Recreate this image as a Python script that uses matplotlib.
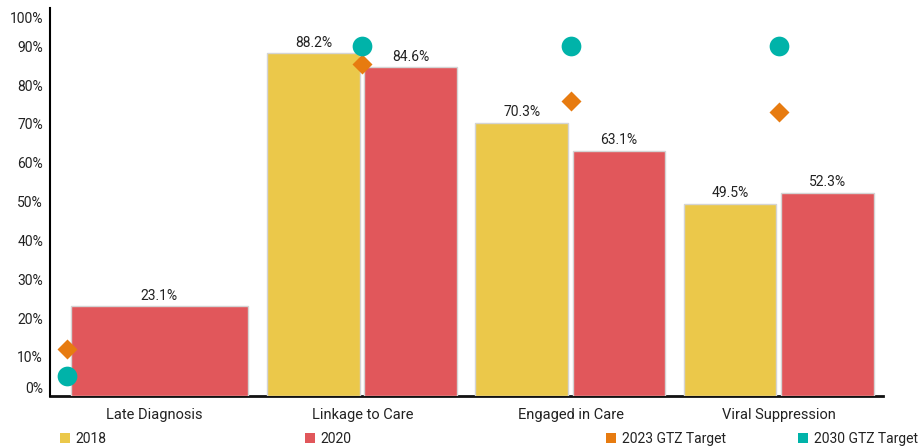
import matplotlib
matplotlib.use("Agg")
import matplotlib.pyplot as plt
import matplotlib.transforms as mtransforms
from matplotlib.patches import Patch
import numpy as np

plt.rcParams['font.family'] = ['Roboto', 'DejaVu Sans']

categories = ["Late Diagnosis", "Linkage to Care", "Engaged in Care", "Viral Suppression"]
values_2018 = [None, 88.2, 70.3, 49.5]
values_2020 = [23.1, 84.6, 63.1, 52.3]
target_2023 = [12, 85.5, 76, 73]
target_2030 = [5, 90, 90, 90]
y_ticks = [0, 10, 20, 30, 40, 50, 60, 70, 80, 90, 100]
y_tick_labels = [f"{t}%" for t in y_ticks]
legend_labels = ["2018", "2020", "2023 GTZ Target", "2030 GTZ Target"]

C2018 = "#EBC84A"
C2020 = "#E1575B"
C2023 = "#E77B10"
C2030 = "#00B3A9"
TXT = "#222222"

W, H = 920, 447
fig = plt.figure(figsize=(W / 100, H / 100), dpi=100)
ax = fig.add_axes([50 / W, (H - 395.7) / H, (883 - 50) / W, (395.7 - 7.5) / H])
ax.set_xlim(-0.5, 3.5)
ax.set_ylim(0, 100)

bw = 0.445
for i, cat in enumerate(categories):
    v18 = values_2018[i]
    v20 = values_2020[i]
    if v18 is not None:
        ax.bar(i - 0.235, v18, width=bw, color=C2018, edgecolor="#d4d4d4", linewidth=1, zorder=3)
        ax.annotate(f"{v18:.1f}%", (i - 0.235, v18), xytext=(0, 2.5), textcoords="offset points",
                    ha="center", va="bottom", fontsize=10, color=TXT, zorder=5)
        ax.bar(i + 0.232, v20, width=bw, color=C2020, edgecolor="#d4d4d4", linewidth=1, zorder=3)
        ax.annotate(f"{v20:.1f}%", (i + 0.232, v20), xytext=(0, 2.5), textcoords="offset points",
                    ha="center", va="bottom", fontsize=10, color=TXT, zorder=5)
        mx = i
    else:
        ax.bar(i + 0.025, v20, width=0.85, color=C2020, edgecolor="#d4d4d4", linewidth=1, zorder=3)
        ax.annotate(f"{v20:.1f}%", (i + 0.025, v20), xytext=(0, 2.5), textcoords="offset points",
                    ha="center", va="bottom", fontsize=10, color=TXT, zorder=5)
        mx = i - 0.42
    ax.plot([mx], [target_2023[i]], marker="D", ms=10.5, color=C2023, mec="none", ls="none", zorder=6, clip_on=False)
    ax.plot([mx], [target_2030[i]], marker="o", ms=14.2, color=C2030, mec="none", ls="none", zorder=6, clip_on=False)

for s in ["top", "right"]:
    ax.spines[s].set_visible(False)
ax.spines["left"].set_color("black")
ax.spines["left"].set_linewidth(1.5)
ax.spines["bottom"].set_color("#111111")
ax.spines["bottom"].set_linewidth(2)
ax.spines["bottom"].set_zorder(2)

ax.set_xticks(range(len(categories)))
ax.set_xticklabels(categories, fontsize=10.5, color=TXT)
ax.set_yticks(y_ticks)
ax.set_yticklabels(y_tick_labels, fontsize=10, color=TXT)
ax.tick_params(axis="both", length=0)
ax.tick_params(axis="x", pad=9)
ax.tick_params(axis="y", pad=5)

ylabels = ax.get_yticklabels()
ylabels[0].set_transform(ylabels[0].get_transform() + mtransforms.ScaledTranslation(0, 0.084, fig.dpi_scale_trans))
ylabels[-1].set_transform(ylabels[-1].get_transform() + mtransforms.ScaledTranslation(0, -0.098, fig.dpi_scale_trans))

colors = [C2018, C2020, C2023, C2030]
leg_x = [60, 305, 606, 798]
fs = 10
for lbl, col, x in zip(legend_labels, colors, leg_x):
    leg = fig.legend(handles=[Patch(facecolor=col, edgecolor="none")], labels=[lbl],
                     loc="center left", bbox_to_anchor=(x / W, 1 - 438.7 / H),
                     frameon=False, fontsize=fs, handlelength=0.72, handleheight=0.72,
                     handletextpad=0.4, borderpad=0, borderaxespad=0)
    for t in leg.get_texts():
        t.set_color(TXT)

fig.savefig("out.png", dpi=100)
